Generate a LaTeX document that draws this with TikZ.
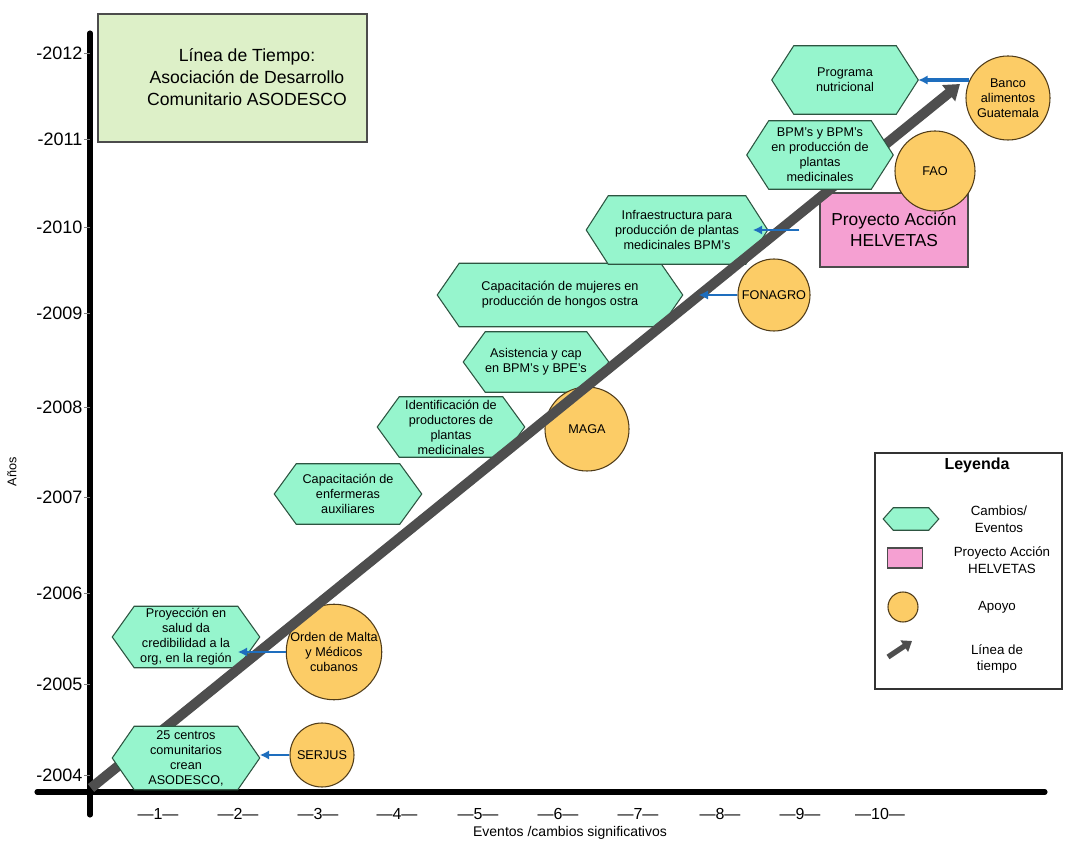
\documentclass[tikz,border=0pt]{standalone}
\usepackage{fontspec}
\setmainfont{Liberation Sans}
\usetikzlibrary{arrows.meta,calc}
\pgfdeclarelayer{back}
\pgfdeclarelayer{front}
\pgfdeclarelayer{toptext}
\pgfsetlayers{back,main,front,toptext}
\definecolor{mint}{RGB}{150,245,205}
\definecolor{mintline}{RGB}{45,85,65}
\definecolor{orangeY}{RGB}{252,204,102}
\definecolor{orangeline}{RGB}{80,60,25}
\definecolor{pinkH}{RGB}{245,160,210}
\definecolor{titlegreen}{RGB}{221,240,200}
\definecolor{arrowblue}{RGB}{30,110,190}
\definecolor{tlgray}{RGB}{78,78,78}
\newcommand{\hexshape}[2]{\draw[hexfill] (#1.west) -- ($(#1.north west)+(#2,0)$) -- ($(#1.north east)+(-#2,0)$) -- (#1.east) -- ($(#1.south east)+(-#2,0)$) -- ($(#1.south west)+(#2,0)$) -- cycle;}
\tikzset{
  hexnode/.style 2 args={draw=none, inner sep=0pt, align=center, font=\fontsize{9.5}{11.25}\selectfont, minimum width={#1*0.75pt}, minimum height={#2*0.75pt}},
  hexfill/.style={fill=mint, draw=mintline, line width=0.8pt},
  support/.style={circle, fill=orangeY, draw=orangeline, line width=0.8pt, inner sep=0pt, align=center, font=\fontsize{9.5}{11.25}\selectfont, minimum size={#1*1.5pt}},
  yearlab/.style={anchor=east, inner sep=1pt, font=\fontsize{13.5}{14}\selectfont},
  xlab/.style={inner sep=1pt, font=\fontsize{12}{13}\selectfont},
  tickline/.style={draw=gray, line width=0.6pt},
  axis/.style={line width=3.8pt, line cap=round},
  bluearrow/.style={draw=arrowblue, line width=#1, -{Latex[length=7pt,width=7pt]}},
  timeline/.style={draw=tlgray, line width=7.5pt, -{Triangle[length=11pt,width=15pt]}},
  legtext/.style={align=center, inner sep=0pt, font=\fontsize{10}{12.5}\selectfont},
}
\begin{document}
\begin{tikzpicture}[x=0.75pt,y=-0.75pt]
\useasboundingbox (0,0) rectangle (1065,841);
\begin{pgfonlayer}{back}
\fill[white] (0,0) rectangle (1065,841);
\end{pgfonlayer}

% title box
\node[draw=black!70, fill=titlegreen, line width=0.8pt, minimum width={269*0.75pt}, minimum height={128*0.75pt}, inner sep=0pt] (title) at (232.5,78) {};
\node[align=center, font=\fontsize{13.2}{16.5}\selectfont, inner sep=0pt] (titletext) at (247,77) {Línea de Tiempo:\\Asociación de Desarrollo\\Comunitario ASODESCO};

% axes
\coordinate (yaxtop) at (90,33);
\coordinate (yaxbot) at (90,815);
\coordinate (xaxl) at (37,792);
\coordinate (xaxr) at (1045,792);
\draw[axis] (yaxbot) -- (yaxtop);
\draw[axis] (xaxl) -- (xaxr);

\foreach \yr/\yy in {2012/53,2011/139,2010/227,2009/313,2008/407,2007/497,2006/593,2005/684,2004/775}{
  \node[yearlab] (y\yr) at (84,\yy) {-\yr};
  \coordinate (yt\yr) at (90,\yy);
  \draw[tickline] (y\yr.east) -- (yt\yr);
}
\foreach \n/\xx in {1/158,2/238,3/318,4/397,5/478,6/558,7/638,8/720,9/800,10/880}{
  \node[xlab] (x\n) at (\xx,814) {---\n---};
}
\node[font=\fontsize{10.5}{12}\selectfont, inner sep=0pt] (xtitle) at (570,833) {Eventos /cambios significativos};
\node[font=\fontsize{9.5}{11}\selectfont, rotate=90, inner sep=0pt] (ytitle) at (12,472) {Años};

% hexagon events (text on top layer)
\begin{pgfonlayer}{toptext}
\node[hexnode={147}{63}] (h1) at (186,758) {25 centros\\comunitarios\\crean\\ASODESCO,};
\node[hexnode={147}{61}] (h2) at (186,637) {Proyección en\\salud da\\credibilidad a la\\org, en la región};
\node[hexnode={147}{60}] (h3) at (348,494) {Capacitación de\\enfermeras\\auxiliares};
\node[hexnode={147}{60}] (h4) at (451,427) {Identificación de\\productores de\\plantas\\medicinales};
\node[hexnode={145}{60}] (h5) at (536,362) {Asistencia y cap\\en BPM's y BPE's};
\node[hexnode={245}{63}] (h6) at (560,295) {Capacitación de mujeres en\\producción de hongos ostra};
\node[hexnode={181}{68}] (h7) at (677,230) {Infraestructura para\\producción de plantas\\medicinales BPM's};
\node[hexnode={146}{68}] (h8) at (820,155) {BPM's y BPM's\\en producción de\\plantas\\medicinales};
\node[hexnode={146}{68}] (h9) at (845,80) {Programa\\nutricional};
\end{pgfonlayer}
\begin{pgfonlayer}{back}
\hexshape{h2}{22}
\hexshape{h3}{22}
\hexshape{h4}{22}
\hexshape{h5}{22}
\hexshape{h6}{22}
\hexshape{h7}{22}
\hexshape{h9}{22}
\end{pgfonlayer}
\begin{pgfonlayer}{front}
\hexshape{h1}{22}
\hexshape{h8}{22}
\end{pgfonlayer}

% HELVETAS project box
\node[draw=black!70, fill=pinkH, line width=0.8pt, minimum width={148*0.75pt}, minimum height={74*0.75pt}, inner sep=0pt, align=center, font=\fontsize{13}{15.5}\selectfont] (helv) at (894,230) {Proyecto Acción\\HELVETAS};

% supports
\node[support=32] (serjus) at (322,755) {SERJUS};
\node[support=47] (orden) at (334,652) {Orden de Malta\\y Médicos\\cubanos};
\node[support=42] (maga) at (587,429) {MAGA};
\node[support=36] (fonagro) at (774,295) {FONAGRO};
\node[support=40] (fao) at (935,171) {FAO};
\node[support=42] (banco) at (1008,98) {Banco\\alimentos\\Guatemala};

% timeline arrow
\coordinate (tstart) at (91,788);
\coordinate (tend) at (960,84);
\draw[timeline] (tstart) -- (tend);

% blue support arrows
\draw[bluearrow=2pt] (serjus.west) -- (serjus.west -| h1.east);
\coordinate (ordtip) at ($(orden.west -| h2.east)+(-22,0)$);
\draw[bluearrow=2pt] (orden.west) -- (ordtip);
\coordinate (fontip) at ($(h6.east)+(16,0)$);
\draw[bluearrow=1.2pt] (fonagro.west) -- (fontip);
\coordinate (helvstart) at ($(helv.west)+(-20,0)$);
\coordinate (helvtip) at ($(h7.east)+(-15,0)$);
\draw[bluearrow=2.2pt] (helvstart) -- (helvtip);
\draw[bluearrow=2.4pt] (banco.155) -- (banco.155 -| h9.east);

% legend
\node[draw=black!80, line width=0.8pt, minimum width={187*0.75pt}, minimum height={236*0.75pt}, inner sep=0pt] (legend) at (968.5,571) {};
\node[font=\bfseries\fontsize{12}{14}\selectfont, inner sep=0pt] (legtitle) at (977,465) {Leyenda};
\node[hexnode={55}{22}] (lhex) at (911,519) {};
\begin{pgfonlayer}{front}
\hexshape{lhex}{10}
\end{pgfonlayer}
\node[legtext] (lhext) at (999,519) {Cambios/\\Eventos};
\node[draw=black!70, fill=pinkH, line width=0.8pt, minimum width={35*0.75pt}, minimum height={20*0.75pt}, inner sep=0pt] (lrect) at (905,558) {};
\node[legtext] (lrectt) at (1002,560) {Proyecto Acción\\HELVETAS};
\node[support=15] (lcirc) at (903,607) {};
\node[legtext] (lcirct) at (997,607) {Apoyo};
\coordinate (larrs) at (888,657);
\coordinate (larre) at (912,641);
\draw[draw=tlgray, line width=4pt, -{Triangle[length=7pt,width=10pt]}] (larrs) -- (larre);
\node[legtext] (larrt) at (997,659) {Línea de\\tiempo};
\end{tikzpicture}
\end{document}
